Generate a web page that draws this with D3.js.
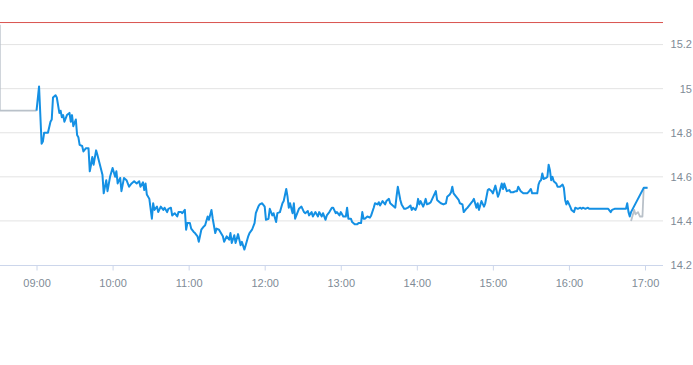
<!DOCTYPE html>
<html>
<head>
<meta charset="utf-8">
<script src="https://cdn.jsdelivr.net/npm/d3@7"></script>
<style>
  html, body { margin: 0; padding: 0; background: #fff; }
  svg { display: block; font-family: "Liberation Sans", Arial, sans-serif; }
</style>
</head>
<body>
<svg id="chart" width="693" height="365"></svg>
<script>
// ---- data (minutes after 09:00, price) ----
const blueMin = [0,2,4,5,6,9,11,12,13,15,16,18,19,20,21,22,24,26,27,28,29,31,32,33,34,36,37,39,41,42,43,44,45,47,48,50,52,53,55,56,58,60,62,63,64,66,67,69,71,73,75,77,79,81,82,84,85,86,87,89,91,92,
93,95,96,98,100,101,103,104,106,107,109,111,112,114,115,117,118,119,121,122,124,125,127,128,130,132,133,135,136,138,139,141,142,144,145,147,148,150,152,153,154,156,157,159,161,162,164,165,167,168,170,172,173,175,176,178,180,181,183,184,186,187,
189,190,192,194,195,197,198,199,200,202,203,204,206,207,209,211,212,214,215,217,218,220,222,223,225,226,228,229,231,233,234,236,237,239,240,242,244,245,246,248,249,251,253,254,256,257,258,259,261,263,264,266,267,269,270,271,273,275,276,278,279,281,283,
284,285,287,288,290,291,293,295,296,297,299,300,301,302,303,305,306,307,308,310,311,313,315,316,318,319,321,323,324,326,327,328,329,331,333,334,336,337,339,340,342,344,345,346,347,348,349,351,353,354,356,357,359,360,362,364,365,367,368,369,371,373,374,376,378,
379,380,382,384,387,388,390,391,395,396,397,398,399,400,402,403,404,405,406,407,408,410,411,413,415,416,417,418,419,421,422,424,425,427,429,430,431,433,435,436,451,453,454,456,465,466,467,468,469,479,482];
const blueVal = [14.90,15.01,14.75,14.76,14.80,14.80,14.85,14.86,14.96,14.97,14.96,14.89,14.90,14.87,14.88,14.85,14.88,14.89,14.85,14.88,14.83,14.86,14.79,14.78,14.745,14.74,14.715,14.73,14.73,14.625,14.655,14.69,14.655,14.72,14.70,14.655,14.61,14.525,14.585,14.535,14.60,14.64,14.60,14.625,14.57,14.595,14.535,14.595,14.585,14.555,14.57,14.58,14.57,14.58,14.555,14.575,14.54,14.57,14.52,14.50,14.41,14.48,
14.45,14.465,14.44,14.465,14.45,14.46,14.44,14.455,14.46,14.425,14.435,14.42,14.44,14.44,14.435,14.45,14.36,14.39,14.39,14.365,14.35,14.345,14.33,14.305,14.36,14.375,14.38,14.42,14.405,14.45,14.41,14.345,14.365,14.36,14.35,14.33,14.305,14.33,14.315,14.345,14.30,14.335,14.30,14.34,14.29,14.305,14.27,14.29,14.33,14.345,14.36,14.39,14.435,14.465,14.475,14.48,14.465,14.405,14.41,14.455,14.425,14.435,
14.395,14.435,14.44,14.48,14.49,14.545,14.51,14.46,14.48,14.435,14.48,14.41,14.44,14.455,14.465,14.44,14.435,14.445,14.425,14.44,14.42,14.44,14.42,14.44,14.42,14.435,14.405,14.425,14.44,14.46,14.46,14.435,14.44,14.425,14.44,14.42,14.42,14.46,14.41,14.41,14.395,14.385,14.385,14.39,14.39,14.44,14.41,14.41,14.42,14.415,14.425,14.46,14.48,14.475,14.485,14.47,14.49,14.475,14.49,14.50,14.48,14.47,14.46,
14.51,14.555,14.495,14.475,14.455,14.455,14.46,14.47,14.45,14.46,14.45,14.465,14.50,14.475,14.49,14.465,14.48,14.50,14.475,14.48,14.485,14.51,14.535,14.495,14.485,14.48,14.475,14.48,14.51,14.52,14.53,14.555,14.525,14.51,14.495,14.48,14.475,14.44,14.455,14.46,14.475,14.49,14.50,14.48,14.46,14.48,14.45,14.49,14.465,14.48,14.54,14.545,14.535,14.525,14.56,14.51,14.525,14.57,14.545,14.57,14.535,14.54,14.53,14.53,14.535,
14.535,14.555,14.535,14.525,14.525,14.53,14.545,14.525,14.525,14.565,14.58,14.585,14.615,14.59,14.595,14.60,14.655,14.63,14.585,14.60,14.58,14.57,14.555,14.555,14.565,14.55,14.495,14.475,14.49,14.465,14.45,14.44,14.46,14.455,14.46,14.455,14.46,14.455,14.46,14.455,14.455,14.44,14.45,14.455,14.455,14.48,14.44,14.42,14.44,14.55,14.55];

// grey series (null = gap)
const greyMin = [-29,-29,0,null,469,471.5,472.5,474.5,476,478,479,482];
const greyVal = [15.29,14.90,14.90,null,14.40,14.45,14.43,14.44,14.42,14.42,14.55,14.55];

const refLine = 15.3;
const yTicks = [14.2,14.4,14.6,14.8,15,15.2];
const xTickHours = [9,10,11,12,13,14,15,16,17];

// ---- layout ----
const svg = d3.select("#chart");
const plotRight = 663, plotBottom = 265;
const base = new Date(2024,0,2,9,0);
const tOf = m => new Date(base.getTime() + m*60000);
const labelColor = "#808b96";

const x = d3.scaleTime()
  .domain([new Date(2024,0,2,8,30), new Date(2024,0,2,17,15)])
  .range([-1.5, 664]);
const y = d3.scaleLinear().domain([14.2, 15.4]).range([plotBottom, 0.5]);

svg.append("defs").append("clipPath").attr("id","clip")
  .append("rect").attr("x",0).attr("y",0).attr("width",plotRight).attr("height",plotBottom);

// grid
svg.append("g").selectAll("line").data(yTicks.filter(v => v > 14.2)).join("line")
  .attr("x1",0).attr("x2",plotRight)
  .attr("y1",d=>y(d)).attr("y2",d=>y(d))
  .attr("stroke","#e3e3e3").attr("stroke-width",1);

// y labels
svg.append("g").selectAll("text").data(yTicks).join("text")
  .attr("x",692).attr("y",d=>y(d)).attr("dy","0.35em")
  .attr("text-anchor","end").attr("font-size",11).attr("fill",labelColor)
  .text(d => String(+d.toFixed(1)));

// x axis
const xAxis = d3.axisBottom(x)
  .tickValues(xTickHours.map(h => new Date(2024,0,2,h,0)))
  .tickFormat(d3.timeFormat("%H:%M"))
  .tickSize(5).tickPadding(9);
const gx = svg.append("g").attr("transform",`translate(0,${plotBottom+0.5})`).call(xAxis);
gx.select(".domain").remove();
gx.selectAll(".tick line").attr("stroke","#ccd6eb");
gx.selectAll(".tick text").attr("fill",labelColor).attr("font-size",11)
  .attr("font-family","'Liberation Sans', Arial, sans-serif");
svg.append("line").attr("x1",0).attr("x2",plotRight)
  .attr("y1",plotBottom+0.5).attr("y2",plotBottom+0.5)
  .attr("stroke","#ccd6eb").attr("stroke-width",1);

// reference line
svg.append("line").attr("x1",0).attr("x2",plotRight)
  .attr("y1",y(refLine)).attr("y2",y(refLine))
  .attr("stroke","#d9534f").attr("stroke-width",1);

const plot = svg.append("g").attr("clip-path","url(#clip)");

const greyData = greyMin.map((m,i) => m === null ? null : {t: tOf(m), v: greyVal[i]});
plot.append("path").datum(greyData)
  .attr("fill","none").attr("stroke","#b9c1c9").attr("stroke-width",1.8)
  .attr("stroke-linejoin","round")
  .attr("d", d3.line().defined(d => d !== null).x(d=>x(d.t)).y(d=>y(d.v)));

const blueData = blueMin.map((m,i) => ({t: tOf(m), v: blueVal[i]}));
plot.append("path").datum(blueData)
  .attr("fill","none").attr("stroke","#1490e4").attr("stroke-width",2)
  .attr("stroke-linejoin","round")
  .attr("d", d3.line().x(d=>x(d.t)).y(d=>y(d.v)));
</script>
</body>
</html>
